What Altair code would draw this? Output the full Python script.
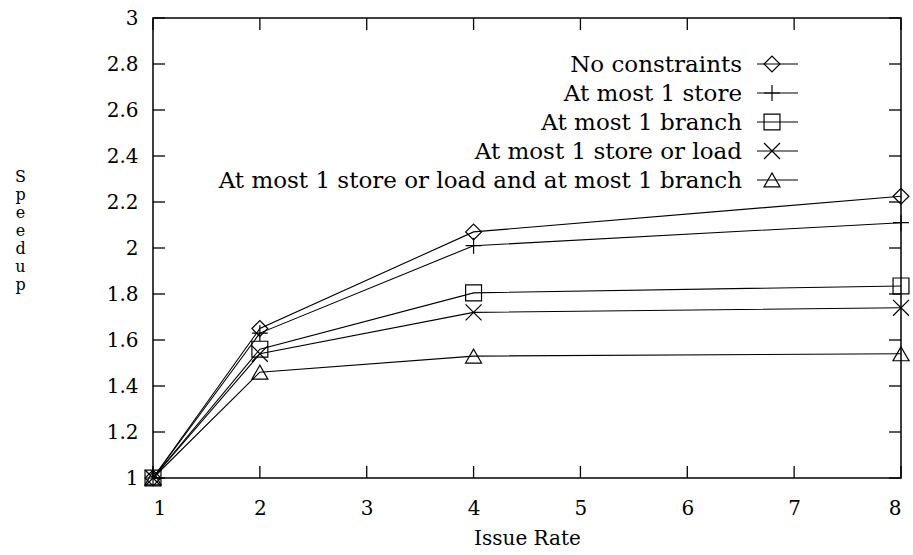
import altair as alt
import pandas as pd

issue_rate = [1, 2, 4, 8]
series_names = [
    "No constraints",
    "At most 1 store",
    "At most 1 branch",
    "At most 1 store or load",
    "At most 1 store or load and at most 1 branch",
]
no_constraints = [1.0, 1.65, 2.07, 2.225]
at_most_1_store = [1.0, 1.63, 2.01, 2.11]
at_most_1_branch = [1.0, 1.56, 1.805, 1.835]
at_most_1_store_or_load = [1.0, 1.54, 1.72, 1.74]
store_load_and_branch = [1.0, 1.46, 1.53, 1.54]

x_ticks = [1, 2, 3, 4, 5, 6, 7, 8]
y_ticks = [1.0, 1.2, 1.4, 1.6, 1.8, 2.0, 2.2, 2.4, 2.6, 2.8, 3.0]

shapes = [
    "diamond",
    "M-1,0H1M0,-1V1",
    "square",
    "M-1,-1L1,1M-1,1L1,-1",
    "triangle-up",
]
sizes = [250, 256, 144, 144, 324]

values = [no_constraints, at_most_1_store, at_most_1_branch,
          at_most_1_store_or_load, store_load_and_branch]
rows = []
for name, vals in zip(series_names, values):
    for xv, yv in zip(issue_rate, vals):
        rows.append({"series": name, "x": xv, "y": yv})
df = pd.DataFrame(rows)
legend_df = pd.DataFrame({"series": series_names})
yt_df = pd.DataFrame({"v": y_ticks})
xt_df = pd.DataFrame({"v": x_ticks})

W, H = 748, 460
FONT = "DejaVu Serif"

xscale = alt.Scale(domain=[1, 8], nice=False, zero=False)
yscale = alt.Scale(domain=[1, 3], nice=False, zero=False)
shape_scale = alt.Scale(domain=series_names, range=shapes)
size_scale = alt.Scale(domain=series_names, range=sizes)

x_axis = alt.Axis(values=x_ticks, tickSize=0, domain=False, grid=False,
                  labelFont=FONT, labelFontSize=20, labelColor="black",
                  labelPadding=20, title="Issue Rate", titleFont=FONT,
                  titleFontSize=20, titleFontWeight="normal",
                  titleColor="black", titlePadding=10)
y_axis = alt.Axis(values=y_ticks, tickSize=0, domain=False, grid=False,
                  labelFont=FONT, labelFontSize=20, labelColor="black",
                  labelPadding=15,
                  labelExpr="datum.value == 1 || datum.value == 2 || datum.value == 3 ? format(datum.value, 'd') : format(datum.value, '.1f')",
                  title=["S", "p", "e", "e", "d", "u", "p"],
                  titleAngle=0, titleFont=FONT, titleFontSize=16,
                  titleFontWeight="normal", titleColor="black",
                  titleLineHeight=18, titleBaseline="top",
                  titleAlign="center", titleX=-133, titleY=150)

base = alt.Chart(df)

lines = base.mark_line(color="black", strokeWidth=1.1).encode(
    x=alt.X("x:Q", scale=xscale, axis=x_axis),
    y=alt.Y("y:Q", scale=yscale, axis=y_axis),
    detail="series:N",
)

points = base.mark_point(filled=False, color="black", strokeWidth=1.2, opacity=1).encode(
    x=alt.X("x:Q", scale=xscale, axis=x_axis),
    y=alt.Y("y:Q", scale=yscale, axis=None),
    shape=alt.Shape("series:N", scale=shape_scale, legend=None),
    size=alt.Size("series:N", scale=size_scale, legend=None),
)

leg_y = alt.Y("series:N", sort=series_names,
              scale=alt.Scale(type="point", range=[46, 162], padding=0),
              axis=None)

leg_text = alt.Chart(legend_df).mark_text(
    align="right", baseline="middle", font=FONT, fontSize=23, color="black", dy=1
).encode(x=alt.value(589), y=leg_y, text="series:N")

leg_rule = alt.Chart(legend_df).mark_rule(color="black", strokeWidth=1.1).encode(
    x=alt.value(604), x2=alt.value(645), y=leg_y)

leg_pts = alt.Chart(legend_df).mark_point(
    filled=False, color="black", strokeWidth=1.2, opacity=1
).encode(
    x=alt.value(619), y=leg_y,
    shape=alt.Shape("series:N", scale=shape_scale, legend=None),
    size=alt.Size("series:N", scale=size_scale, legend=None),
)

ytick_l = alt.Chart(yt_df).mark_rule(color="black", strokeWidth=1.3).encode(
    y=alt.Y("v:Q", scale=yscale, axis=None), x=alt.value(0), x2=alt.value(12))
ytick_r = alt.Chart(yt_df).mark_rule(color="black", strokeWidth=1.3).encode(
    y=alt.Y("v:Q", scale=yscale, axis=None), x=alt.value(W - 12), x2=alt.value(W))
xtick_b = alt.Chart(xt_df).mark_rule(color="black", strokeWidth=1.3).encode(
    x=alt.X("v:Q", scale=xscale, axis=x_axis), y=alt.value(H - 12), y2=alt.value(H))
xtick_t = alt.Chart(xt_df).mark_rule(color="black", strokeWidth=1.3).encode(
    x=alt.X("v:Q", scale=xscale, axis=x_axis), y=alt.value(0), y2=alt.value(12))

chart = alt.layer(
    lines, points, ytick_l, ytick_r, xtick_b, xtick_t, leg_rule, leg_pts, leg_text
).resolve_scale(y="independent", x="shared").properties(
    width=W, height=H,
    autosize=alt.AutoSizeParams(type="none"),
    padding={"left": 153, "top": 18, "right": 12, "bottom": 77},
    background="white",
).configure_view(stroke="black", strokeWidth=1.5)

chart.save("out.html", embed_options={"renderer": "svg", "actions": False})
